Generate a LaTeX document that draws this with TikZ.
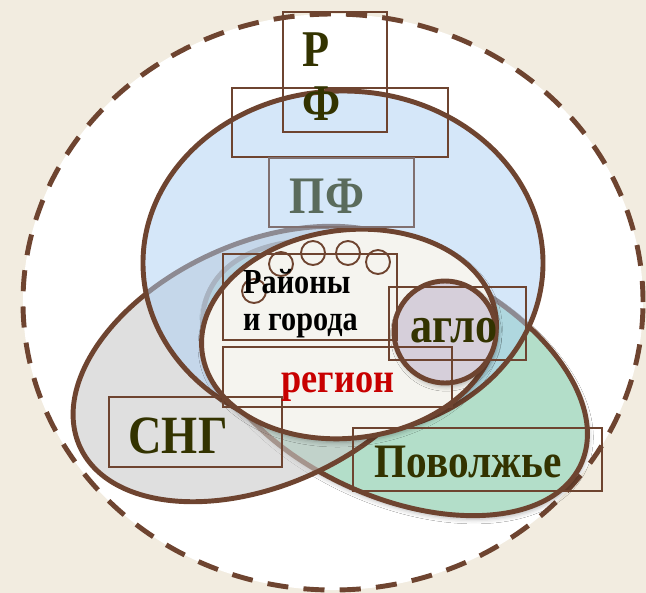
\documentclass[tikz,border=0pt]{standalone}
\usepackage{fontspec}
\setmainfont{Liberation Serif}[FakeStretch=0.86]
\usepackage{tikz}
\usetikzlibrary{positioning, shadows.blur}

\definecolor{linen}{RGB}{242,236,224}
\definecolor{brn}{RGB}{110,68,48}
\definecolor{rfblue}{RGB}{173,209,245}
\definecolor{cisgray}{RGB}{203,203,203}
\definecolor{volga}{RGB}{179,222,201}
\definecolor{regfill}{RGB}{245,244,239}
\definecolor{aglfill}{RGB}{214,207,218}
\definecolor{olive}{RGB}{51,51,0}
\definecolor{pfgray}{RGB}{90,107,92}
\definecolor{pfbox}{RGB}{128,112,112}
\definecolor{regred}{RGB}{200,0,0}

\newcommand{\lblsize}[1]{\fontsize{#1}{#1}\selectfont\bfseries}

\begin{document}
\begin{tikzpicture}[x=0.03cm, y=-0.03cm,
  ring/.style={draw=brn, line width=4.2pt},
  soft/.style={blur shadow={shadow xshift=1pt, shadow yshift=-3pt,
    shadow blur radius=4pt, shadow opacity=30}},
  box/.style={draw=brn, line width=1.3pt},
  dot/.style={draw=brn, line width=1.6pt},
  lbl/.style={inner sep=0pt, text=olive}]
  % page and background
  \useasboundingbox (0,0) rectangle (646,593);
  \clip (0,0) rectangle (646,593);
  \fill[linen] (0,0) rectangle (646,593);
  % outer dashed field
  \draw[ring, fill=white, dash pattern=on 18pt off 13pt]
    (333,302) ellipse [x radius=9.3cm, y radius=8.64cm];
  % Volga ellipse
  \draw[ring, soft, fill=volga, rotate around={-25:(395,378)}]
    (395,378) ellipse [x radius=6.15cm, y radius=3.54cm];
  % CIS ellipse
  \draw[ring, fill=cisgray, fill opacity=0.6, rotate around={24.4:(262,364)}]
    (262,364) ellipse [x radius=6cm, y radius=3.63cm];
  % RF ellipse
  \draw[ring, fill=rfblue, fill opacity=0.5]
    (343,263) ellipse [x radius=6cm, y radius=5.16cm];
  % region ellipse
  \draw[ring, soft, fill=regfill, rotate around={7:(349,334)}]
    (349,334) ellipse [x radius=4.44cm, y radius=3.12cm];
  % agglomeration
  \draw[ring, soft, fill=aglfill] (445,332) circle [radius=1.53cm];
  % small towns
  \foreach \cx/\cy in {254/291, 281/264, 313/253, 348/253, 378/262}
    \draw[dot] (\cx,\cy) circle [radius=0.36cm];
  % label boxes
  \draw[box] (232,88) rectangle (448,157);
  \draw[box] (283,12) rectangle (387,132);
  \draw[box, draw=pfbox] (269,158) rectangle (414,227);
  \draw[box] (223,254) rectangle (397,340);
  \draw[box] (223,347) rectangle (452,407);
  \draw[box] (389,287) rectangle (526,360);
  \draw[box] (109,397) rectangle (282,467);
  \draw[box] (353,428) rectangle (602,491);
  % labels
  \node[lbl, anchor=base, font=\lblsize{44}] (r) at (316,67) {Р};
  \node[lbl, anchor=base, font=\lblsize{44}] (f) at (322,121) {Ф};
  \node[lbl, anchor=base, font=\lblsize{45}, text=pfgray] (pf) at (327,213) {ПФ};
  \node[lbl, anchor=base west, font=\lblsize{30}, text=black] (rayony) at (243,293) {Районы};
  \node[lbl, anchor=base west, font=\lblsize{30}, text=black] (goroda) at (243,330) {и города};
  \node[lbl, anchor=base, font=\lblsize{36}, text=regred] (region) at (338,392) {регион};
  \node[lbl, anchor=base, font=\lblsize{44}] (aglo) at (454,342) {агло};
  \node[lbl, anchor=base, font=\lblsize{46}] (sng) at (178,453) {СНГ};
  \node[lbl, anchor=base, font=\lblsize{41}] (volga) at (468,477) {Поволжье};
\end{tikzpicture}
\end{document}
